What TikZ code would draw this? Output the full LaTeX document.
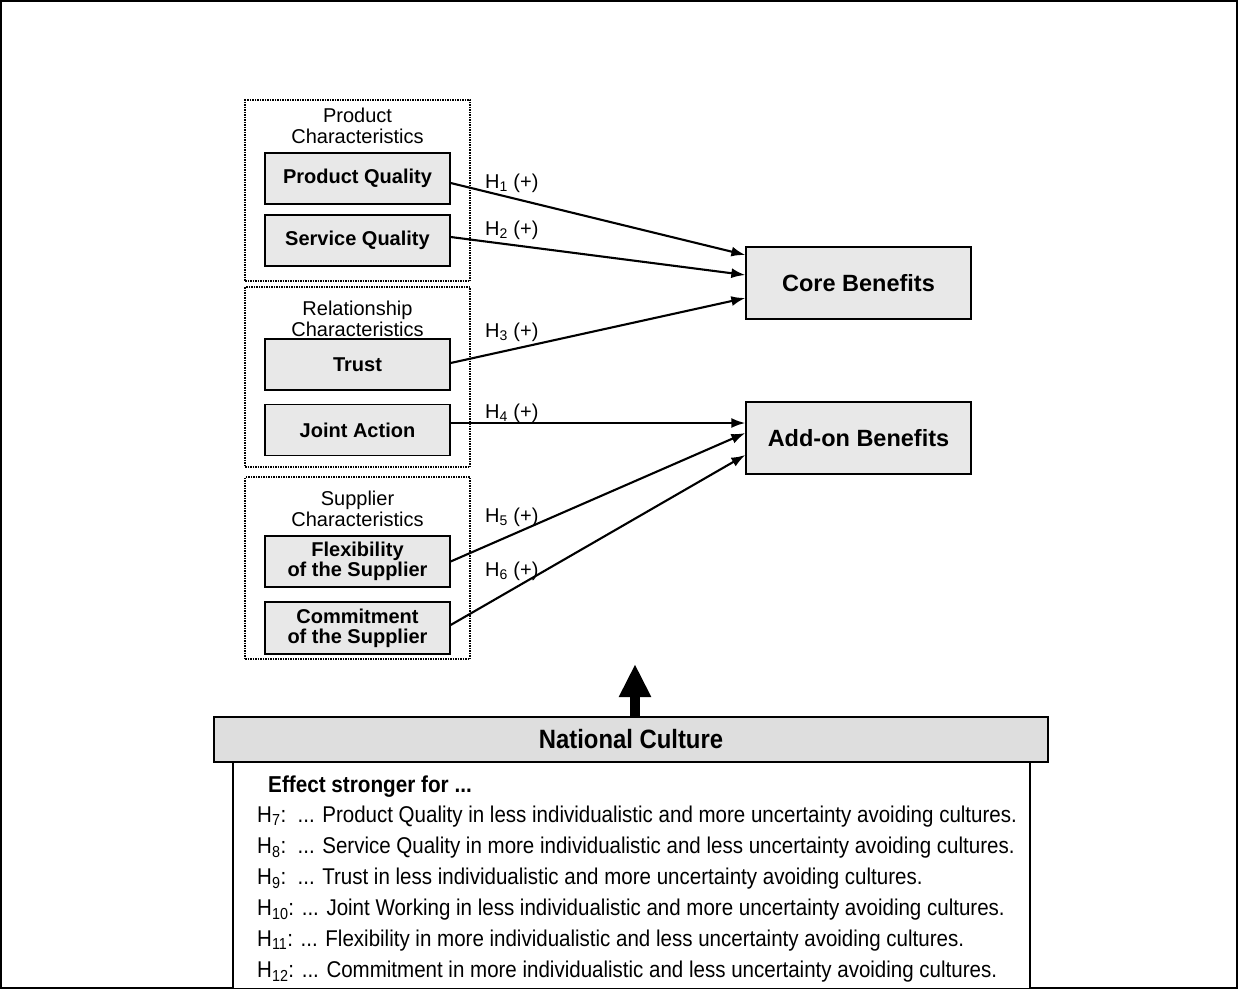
\documentclass[tikz,border=0pt]{standalone}
\usepackage{fontspec}
\setmainfont{Liberation Sans}
\newfontfamily\narrowfont[FakeStretch=0.9]{Liberation Sans}
\usepackage{tikz}
\usetikzlibrary{shapes,arrows,arrows.meta}
\tikzstyle{block} = [rectangle, draw, line width=1.3pt, fill=gray!18, align=center,
font=\fontsize{20}{20}\selectfont\bfseries, minimum width=185pt, minimum height=51pt, inner sep=0pt]
\tikzstyle{target} = [rectangle, draw, line width=1.3pt, fill=gray!18,
font=\fontsize{23.5}{25}\selectfont\bfseries, minimum width=225pt, minimum height=72pt]
\tikzstyle{group} = [rectangle, draw, densely dotted, line width=1.5pt, minimum width=225pt]
\tikzstyle{grouptitle} = [align=center, font=\fontsize{20}{21}\selectfont, inner sep=0pt, anchor=north]
\tikzstyle{hyp} = [font=\fontsize{20}{22}\selectfont, inner sep=0pt, anchor=base west]
\tikzstyle{effect} = [font=\narrowfont\fontsize{22.8}{24}\selectfont, inner sep=0pt, anchor=base west]
\tikzstyle{line} = [draw, line width=2.1pt, -{Latex[length=14pt,width=10pt]}]

\begin{document}
\begin{tikzpicture}[x=1pt, y=-1pt]
		\useasboundingbox (0,0) rectangle (1239,990);
		\draw [line width=1.5pt] (1,1) rectangle (1237,988);
		
		% antecedent groups
		\node [group, minimum height=181pt] (prodgrp) at (357.5,190.5) {};
		\node [group, minimum height=180pt] (relgrp) at (357.5,377) {};
		\node [group, minimum height=182pt] (supgrp) at (357.5,568) {};
		\node [grouptitle] (prodtitle) at (357.5,107.5) {Product\\Characteristics};
		\node [grouptitle] (reltitle) at (357.5,300.5) {Relationship\\Characteristics};
		\node [grouptitle] (suptitle) at (357.5,490.5) {Supplier\\Characteristics};
		
		\node [block] (pq) at (357.5,178.5) {Product Quality};
		\node [block] (sq) at (357.5,240.5) {Service Quality};
		\node [block] (trust) at (357.5,364.5) {Trust};
		\node [block] (ja) at (357.5,430) {Joint Action};
		\node [block] (flex) at (357.5,561.5) {Flexibility\\of the Supplier};
		\node [block, minimum height=52pt] (comm) at (357.5,628) {Commitment\\of the Supplier};
		
		% outcomes
		\node [target] (core) at (858.5,283) {Core Benefits};
		\node [target] (addon) at (858.5,438) {Add-on Benefits};
		
		\path [line] ([yshift=-4.5pt]pq.east) -- ([yshift=28pt]core.west);
		\path [line] ([yshift=3.5pt]sq.east) -- ([yshift=8pt]core.west);
		\path [line] ([yshift=1.5pt]trust.east) -- ([yshift=-15pt]core.west);
		\path [line] ([yshift=7pt]ja.east) -- ([yshift=15pt]addon.west);
		\path [line] (flex.east) -- ([yshift=5pt]addon.west);
		\path [line] ([yshift=3pt]comm.east) -- ([yshift=-17pt]addon.west);
		
		\node [hyp] (h1) at (485,188) {H\textsubscript{1} (+)};
		\node [hyp] (h2) at (485,235) {H\textsubscript{2} (+)};
		\node [hyp] (h3) at (485,337) {H\textsubscript{3} (+)};
		\node [hyp] (h4) at (485,418) {H\textsubscript{4} (+)};
		\node [hyp] (h5) at (485,522) {H\textsubscript{5} (+)};
		\node [hyp] (h6) at (485,576) {H\textsubscript{6} (+)};
		
		% moderator
		\node [rectangle, draw, line width=1.3pt, fill=gray!26, minimum width=834pt, minimum height=45pt,
		font=\narrowfont\fontsize{26.5}{28}\selectfont\bfseries] (culture) at (631,739.5) {National Culture};
		\node [rectangle, draw, line width=1.3pt, fill=white, minimum width=797pt, minimum height=226pt,
		anchor=north] (effects) at (631.5,762) {};
		\coordinate (tip) at (635,664);
		\draw [line width=10pt, -{Triangle[width=30pt,length=33pt]}] (tip |- culture.north) -- (tip);
		
		\node [effect, font=\narrowfont\fontsize{23}{24}\selectfont\bfseries] (effhead) at (268,792) {Effect stronger for ...};
		\node [effect] (eff7) at (257,822) {H\textsubscript{7}:\ \ ... Product Quality in less individualistic and more uncertainty avoiding cultures.};
		\node [effect] (eff8) at (257,853) {H\textsubscript{8}:\ \ ... Service Quality in more individualistic and less uncertainty avoiding cultures.};
		\node [effect] (eff9) at (257,884) {H\textsubscript{9}:\ \ ... Trust in less individualistic and more uncertainty avoiding cultures.};
		\node [effect] (eff10) at (257,915) {H\textsubscript{10}: ... Joint Working in less individualistic and more uncertainty avoiding cultures.};
		\node [effect] (eff11) at (257,946) {H\textsubscript{11}: ... Flexibility in more individualistic and less uncertainty avoiding cultures.};
		\node [effect] (eff12) at (257,977) {H\textsubscript{12}: ... Commitment in more individualistic and less uncertainty avoiding cultures.};
\end{tikzpicture}
\end{document}
